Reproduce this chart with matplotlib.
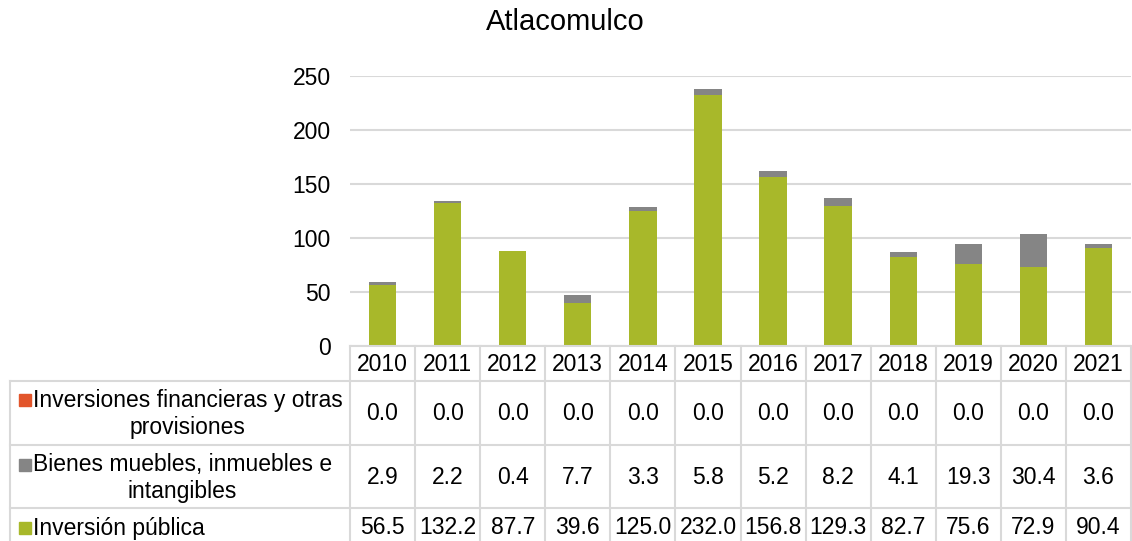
import matplotlib
matplotlib.use("Agg")
import matplotlib.pyplot as plt

plt.rcParams['font.family'] = ['Liberation Sans', 'DejaVu Sans']

years = ['2010', '2011', '2012', '2013', '2014', '2015', '2016', '2017', '2018', '2019', '2020', '2021']
inversion_publica = [56.5, 132.2, 87.7, 39.6, 125.0, 232.0, 156.8, 129.3, 82.7, 75.6, 72.9, 90.4]
bienes_muebles = [2.9, 2.2, 0.4, 7.7, 3.3, 5.8, 5.2, 8.2, 4.1, 19.3, 30.4, 3.6]
inversiones_fin = [0.0] * 12
series_names = ['Inversiones financieras y otras\nprovisiones',
                'Bienes muebles, inmuebles e\nintangibles',
                'Inversión pública']
title = 'Atlacomulco'

c_green = '#A8B82A'
c_gray = '#858585'
c_orange = '#E2552B'
c_grid = '#D9D9D9'

W, H = 1132, 541
fig = plt.figure(figsize=(W / 100, H / 100), dpi=100)

# plot area in pixel coords
px_left, px_right, px_top, px_bottom = 350, 1131, 76, 346
ax = fig.add_axes([px_left / W, 1 - px_bottom / H, (px_right - px_left) / W, (px_bottom - px_top) / H])
x = list(range(len(years)))
ax.bar(x, inversion_publica, width=0.42, color=c_green, zorder=3)
ax.bar(x, bienes_muebles, width=0.42, bottom=inversion_publica, color=c_gray, zorder=3)
tot = [a + b for a, b in zip(inversion_publica, bienes_muebles)]
ax.bar(x, inversiones_fin, width=0.42, bottom=tot, color=c_orange, zorder=3)
ax.set_xlim(-0.5, len(years) - 0.5)
ax.set_ylim(0, 250)
ax.set_yticks([0, 50, 100, 150, 200, 250])
ax.yaxis.grid(True, color=c_grid, linewidth=1.5, zorder=0)
ax.set_xticks([])
for s in ax.spines.values():
    s.set_visible(False)
ax.tick_params(axis='y', length=0, labelsize=16.5, pad=14)

fig.suptitle(title, x=565 / W, y=1 - 8 / H, va='top', fontsize=21)

# overlay for the data table
ov = fig.add_axes([0, 0, 1, 1])
ov.set_xlim(0, W)
ov.set_ylim(H, 0)
ov.axis('off')

colw = (px_right - px_left) / len(years)
row_y = [346, 381, 445, 508, 560]
lkw = dict(color=c_grid, linewidth=1.5)
ov.plot([px_left, px_right], [row_y[0], row_y[0]], **lkw)
ov.plot([10, px_right], [row_y[1], row_y[1]], **lkw)
ov.plot([10, px_right], [row_y[2], row_y[2]], **lkw)
ov.plot([10, px_right], [row_y[3], row_y[3]], **lkw)
ov.plot([10, 10], [row_y[1], H], **lkw)
for i in range(len(years) + 1):
    xx = px_left + i * colw
    ov.plot([xx, xx], [row_y[0], H], **lkw)

fs = 16.5
for i, yr in enumerate(years):
    cx = px_left + (i + 0.5) * colw
    ov.text(cx, (row_y[0] + row_y[1]) / 2 + 1, yr, ha='center', va='center', fontsize=fs)

rows = [inversiones_fin, bienes_muebles, inversion_publica]
colors = [c_orange, c_gray, c_green]
row_centers = [414, 478, 528]
label_center = [414, 478, 528]
square_y = [400, 465, 528]
for r, (vals, col, name) in enumerate(zip(rows, colors, series_names)):
    for i, v in enumerate(vals):
        cx = px_left + (i + 0.5) * colw
        ov.text(cx, row_centers[r], f'{v:.1f}', ha='center', va='center', fontsize=fs)
    ov.add_patch(plt.Rectangle((19, square_y[r] - 6), 12, 12, color=col))
    ov.text(33, label_center[r], name, ha='left', va='center', fontsize=fs,
            multialignment='center', linespacing=1.2)

fig.savefig('out.png', dpi=100)
